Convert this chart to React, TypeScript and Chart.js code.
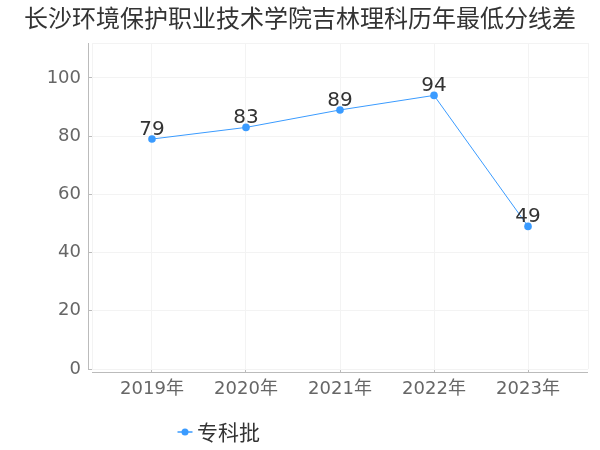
import React, { useEffect, useRef } from "react";
import { Chart, registerables } from "chart.js";

Chart.register(...registerables);

const TITLE = "长沙环境保护职业技术学院吉林理科历年最低分线差";
const categories = ["2019年", "2020年", "2021年", "2022年", "2023年"];
const seriesName = "专科批";
const values = [79, 83, 89, 94, 49];
const yTicks = [0, 20, 40, 60, 80, 100];
const Y_MAX = 112;
const X_PAD = 0.638;

const BLUE = "#3a9bff";
const CJK = '"Noto Sans CJK SC", "DejaVu Sans", sans-serif';
const NUM = '"DejaVu Sans", "Noto Sans CJK SC", sans-serif';

const decorPlugin = {
  id: "decor",
  afterDraw(chart: any) {
    const { ctx, chartArea } = chart;
    const { left, right, top, bottom } = chartArea;
    ctx.save();
    ctx.strokeStyle = "#bbbbbb";
    ctx.lineWidth = 1;
    ctx.beginPath();
    ctx.moveTo(left - 3.5, top);
    ctx.lineTo(left - 3.5, bottom);
    ctx.moveTo(left, bottom + 3.5);
    ctx.lineTo(right, bottom + 3.5);
    ctx.stroke();
    ctx.fillStyle = "#333333";
    ctx.font = `24px ${CJK}`;
    ctx.textAlign = "center";
    ctx.textBaseline = "middle";
    ctx.fillText(TITLE, 300, 18);
    const meta = chart.getDatasetMeta(0);
    ctx.font = `20px ${NUM}`;
    ctx.textBaseline = "alphabetic";
    ctx.fillStyle = "#333333";
    meta.data.forEach((pt: any, i: number) => {
      ctx.fillText(String(values[i]), pt.x, pt.y - 4);
    });
    const lx = 185;
    const ly = 432;
    ctx.strokeStyle = BLUE;
    ctx.lineWidth = 1.5;
    ctx.beginPath();
    ctx.moveTo(lx - 7.5, ly);
    ctx.lineTo(lx + 7.5, ly);
    ctx.stroke();
    ctx.fillStyle = BLUE;
    ctx.beginPath();
    ctx.arc(lx, ly, 3.5, 0, Math.PI * 2);
    ctx.fill();
    ctx.fillStyle = "#333333";
    ctx.font = `21px ${CJK}`;
    ctx.textAlign = "left";
    ctx.textBaseline = "middle";
    ctx.fillText(seriesName, 197, ly);
    ctx.restore();
  },
};

export default function App() {
  const ref = useRef<HTMLCanvasElement | null>(null);
  useEffect(() => {
    document.body.style.margin = "0";
    const xMin = -X_PAD;
    const xMax = categories.length - 1 + X_PAD;
    const chart = new Chart(ref.current as HTMLCanvasElement, {
      type: "line",
      data: {
        datasets: [
          {
            label: seriesName,
            data: values.map((v, i) => ({ x: i, y: v })),
            borderColor: BLUE,
            backgroundColor: BLUE,
            borderWidth: 1,
            pointRadius: 3.8,
            pointBackgroundColor: BLUE,
            pointBorderWidth: 0,
            tension: 0,
          },
        ],
      },
      options: {
        animation: false,
        responsive: false,
        layout: { padding: { left: 0, top: 43, right: 12, bottom: 0 } },
        plugins: { legend: { display: false }, title: { display: false }, tooltip: { enabled: false } },
        scales: {
          x: {
            type: "linear",
            min: xMin,
            max: xMax,
            afterBuildTicks: (s: any) => {
              s.ticks = [xMin, ...categories.map((_, i) => i), xMax].map((v) => ({ value: v }));
            },
            afterFit: (s: any) => {
              s.height = 81;
            },
            border: { display: false },
            grid: {
              color: "#f3f3f3",
              tickLength: 4,
              tickColor: (c: any) => (Number.isInteger(c.tick?.value) ? "#bbbbbb" : "rgba(0,0,0,0)"),
            },
            ticks: {
              padding: 6,
              color: "#666666",
              font: { size: 18, family: NUM },
              callback: (v: any) => (Number.isInteger(v) ? categories[v] : ""),
              maxRotation: 0,
              autoSkip: false,
            },
          },
          y: {
            min: 0,
            max: Y_MAX,
            afterBuildTicks: (s: any) => {
              s.ticks = [...yTicks, Y_MAX].map((v) => ({ value: v }));
            },
            afterFit: (s: any) => {
              s.width = 92;
            },
            border: { display: false },
            grid: {
              color: "#f3f3f3",
              tickLength: 4,
              tickColor: (c: any) => (yTicks.includes(c.tick?.value) ? "#bbbbbb" : "rgba(0,0,0,0)"),
            },
            ticks: {
              padding: 7,
              color: "#666666",
              font: { size: 18, family: NUM },
              callback: (v: any) => (yTicks.includes(v) ? String(v) : ""),
            },
          },
        },
      },
      plugins: [decorPlugin],
    } as any);
    return () => chart.destroy();
  }, []);
  return (
    <div style={{ position: "absolute", left: 0, top: 0, width: 600, height: 450, background: "#fff" }}>
      <canvas ref={ref} width={600} height={450} />
    </div>
  );
}
